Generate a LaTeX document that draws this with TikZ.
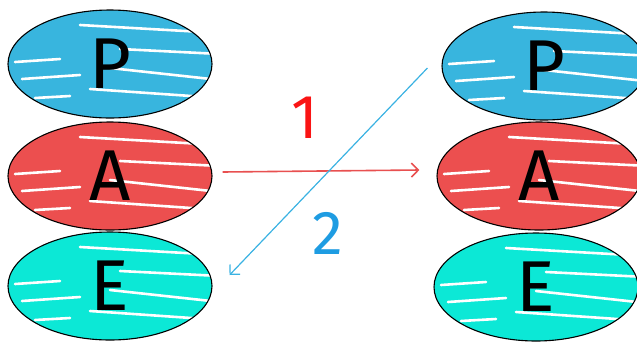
\documentclass[tikz,border=0pt]{standalone}
\usepackage{fontspec}
\setmainfont{Fira Sans}
\usepackage{tikz}
\usetikzlibrary{positioning, shapes.geometric, arrows.meta, calc}
\definecolor{pblue}{HTML}{38B5DE}
\definecolor{ared}{HTML}{EC4F4F}
\definecolor{ecyan}{HTML}{0CE8D6}
\definecolor{arrowred}{HTML}{E85050}
\definecolor{labelred}{HTML}{FA1414}
\definecolor{arrowblue}{HTML}{3AB2E2}
\definecolor{labelblue}{HTML}{1E9CE2}

\tikzset{
  blob/.style={ellipse, draw=black, line width=1.1pt, inner sep=0pt,
    minimum width=204pt, minimum height=108pt,
    font=\fontsize{72}{72}\selectfont,
    path picture={
      \foreach \xa/\ya/\xb/\yb in {-30/39/110/31, 10/15/110/10, 0/-4/110/-16,
          -20/-25/110/-34, -95/2/-50/5, -88/-15/-30/-11, -75/-34/-40/-32} {
        \draw[white, line width=2.6pt, line cap=round]
          ([shift={(\xa pt,\ya pt)}]path picture bounding box.center) --
          ([shift={(\xb pt,\yb pt)}]path picture bounding box.center);
      }
    }},
  numlabel/.style={font=\fontsize{62}{62}\selectfont}
}

\begin{document}
\begin{tikzpicture}[x=1pt, y=-1pt]
  \useasboundingbox (0,0) rectangle (637,341);

  % Left column
  \node[blob, fill=pblue] (lP) at (110,64) {P};
  \node[blob, fill=ared] (lA) at (110,176) {A};
  \node[blob, fill=ecyan] (lE) at (110,286) {E};

  % Right column
  \node[blob, fill=pblue] (rP) at (544,66) {P};
  \node[blob, fill=ared] (rA) at (539,176) {A};
  \node[blob, fill=ecyan] (rE) at (536,287) {E};

  % Arrows
  \draw[arrowred, line width=1.6pt, -{Straight Barb[length=7pt, width=14pt]}]
    ([xshift=10pt, yshift=4pt]lA.east) -- ([xshift=-17pt, yshift=6pt]rA.west);
  \draw[arrowblue, line width=1.2pt, -{Straight Barb[length=7pt, width=14pt]}]
    ([xshift=-14pt, yshift=-2pt]rP.west) -- ([shift={(17pt,11pt)}]lE.east);

  % Step numbers
  \node[numlabel, labelred] (one) at (305,118) {1};
  \node[numlabel, labelblue] (two) at (328,233) {2};
\end{tikzpicture}
\end{document}
